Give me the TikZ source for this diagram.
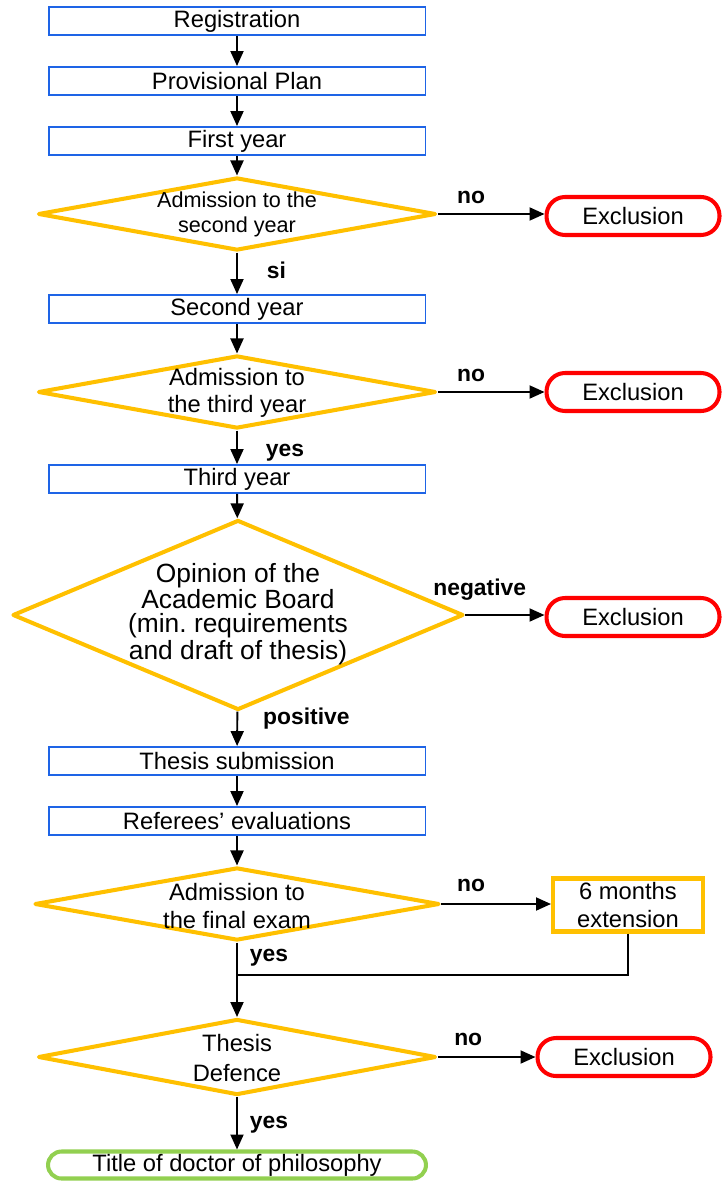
\documentclass[tikz,border=0pt]{standalone}
\usepackage{fontspec}
\setmainfont{Liberation Sans}
\usetikzlibrary{shapes.geometric,arrows.meta}
\definecolor{stepblue}{RGB}{30,100,230}
\definecolor{amber}{RGB}{255,192,0}
\definecolor{exred}{RGB}{255,0,0}
\definecolor{okgreen}{RGB}{146,208,80}
\begin{document}
\begin{tikzpicture}[x=0.02cm, y=-0.02cm, font=\fontsize{13.5}{15}\selectfont, >={Triangle[length=0.3cm,width=0.26cm]},
    stage/.style={draw=stepblue, line width=1.1pt, minimum width=7.54cm, minimum height=0.56cm, inner sep=0pt},
    check/.style={draw=amber, line width=2.3pt, line join=round, shape=diamond, inner sep=0pt},
    stopbox/.style={draw=exred, line width=2.3pt, rounded corners=0.37cm, minimum width=3.46cm, minimum height=0.76cm, inner sep=0pt},
    flow/.style={->, line width=1.1pt},
    answer/.style={font=\fontsize{13}{15}\selectfont\bfseries, inner sep=0pt, anchor=base},
    sideans/.style={font=\fontsize{13}{15}\selectfont\bfseries, inner sep=0pt, anchor=base west},
    multi/.style={align=center, inner sep=0pt}]
  \useasboundingbox (0,0) rectangle (723,1182);
  % main column
  \node[stage] (reg) at (237,21) {Registration};
  \node[stage] (plan) at (237,81) {Provisional Plan};
  \node[stage] (first) at (237,141) {First year};
  \node[check, minimum width=7.96cm, minimum height=1.46cm] (adm2) at (237,214) {};
  \node[multi, font=\fontsize{12.3}{14.3}\selectfont] (adm2t) at (237,214) {Admission to the\\second year};
  \node[stage] (second) at (237,309) {Second year};
  \node[check, minimum width=7.96cm, minimum height=1.46cm] (adm3) at (237,392) {};
  \node[multi, font=\fontsize{13.5}{15.5}\selectfont] (adm3t) at (237,393) {Admission to\\the third year};
  \node[stage] (third) at (237,479) {Third year};
  \node[check, minimum width=9.02cm, minimum height=3.8cm] (board) at (238,615) {};
  \node[multi, font=\fontsize{15}{13.6}\selectfont] (boardt) at (238,614) {Opinion of the\\Academic Board\\(min.\ requirements\\and draft of thesis)};
  \node[stage] (subm) at (237,761) {Thesis submission};
  \node[stage] (referee) at (237,821) {Referees’ evaluations};
  \node[check, minimum width=8.1cm, minimum height=1.46cm] (final) at (237,904) {};
  \node[multi, font=\fontsize{13.5}{15.5}\selectfont] (finalt) at (237,906) {Admission to\\the final exam};
  \node[check, minimum width=7.96cm, minimum height=1.52cm] (defence) at (237,1057) {};
  \node[multi, font=\fontsize{13.5}{17}\selectfont] (defencet) at (237,1058) {Thesis\\Defence};
  \node[draw=okgreen, line width=2.3pt, rounded corners=0.27cm, minimum width=7.56cm, minimum height=0.54cm, inner sep=0pt] (title) at (237,1165) {Title of doctor of philosophy};
  % side column
  \node[stopbox] (exc1) at (633,216) {Exclusion};
  \node[stopbox] (exc2) at (633,392) {Exclusion};
  \node[stopbox] (exc3) at (633,617) {Exclusion};
  \node[draw=amber, line width=2.3pt, minimum width=3.0cm, minimum height=1.06cm, multi, font=\fontsize{13.5}{15.5}\selectfont] (ext) at (628,905) {6 months\\extension};
  \node[stopbox] (exc4) at (624,1057) {Exclusion};
  \coordinate (join) at (237,975);
  % connectors
  \draw[flow] (reg) -- (plan);
  \draw[flow] (plan) -- (first);
  \draw[flow] (first) -- (adm2);
  \draw[flow] (adm2) -- node[sideans, pos=0.62, xshift=0.58cm] {si} (second);
  \draw[flow] (adm2.east) -- node[answer, pos=0.31, yshift=0.22cm] {no} (adm2.east -| exc1.west);
  \draw[flow] (second) -- (adm3);
  \draw[flow] (adm3) -- node[sideans, pos=0.79, xshift=0.56cm] {yes} (third);
  \draw[flow] (adm3.east) -- node[answer, pos=0.31, yshift=0.22cm] {no} (adm3.east -| exc2.west);
  \draw[flow] (third) -- (board);
  \draw[flow] (board.east) -- node[answer, pos=0.18, yshift=0.4cm] {negative} (board.east -| exc3.west);
  \draw[flow] (board) -- node[sideans, pos=0.38, xshift=0.5cm] {positive} (subm);
  \draw[flow] (subm) -- (referee);
  \draw[flow] (referee) -- (final);
  \draw[flow] (final.east) -- node[answer, pos=0.27, yshift=0.25cm] {no} (final.east -| ext.west);
  \draw[line width=1.1pt] (ext.south) |- (join);
  \draw[flow] (final) -- node[sideans, pos=0.26, xshift=0.24cm] {yes} (defence);
  \draw[flow] (defence.east) -- node[answer, pos=0.31, yshift=0.24cm] {no} (defence.east -| exc4.west);
  \draw[flow] (defence) -- node[sideans, pos=0.6, xshift=0.24cm] {yes} (title);
\end{tikzpicture}
\end{document}
